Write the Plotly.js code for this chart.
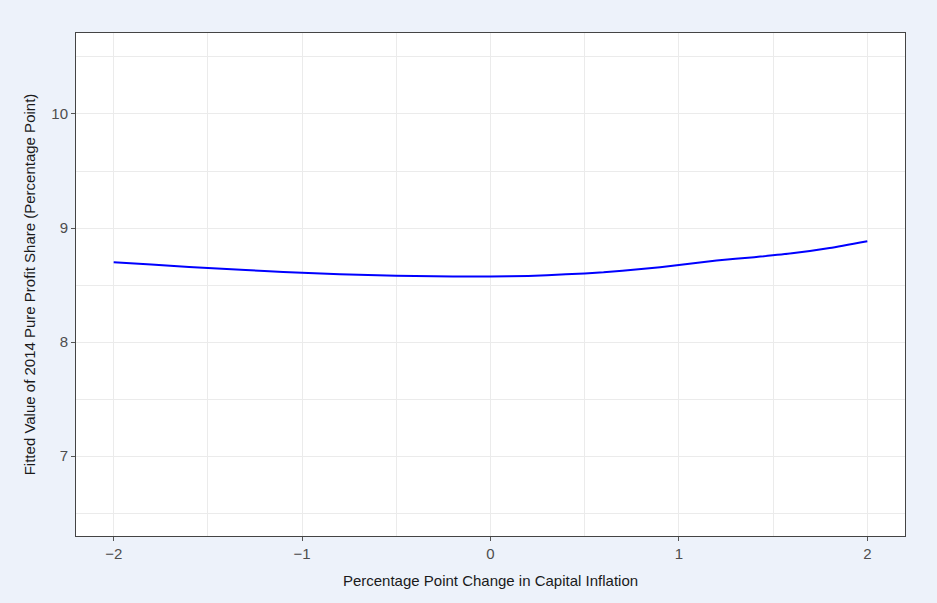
<!DOCTYPE html>
<html>
<head>
<meta charset="utf-8">
<script src="https://cdn.plot.ly/plotly-3.0.1.min.js"></script>
<style>html,body{margin:0;padding:0;background:#EDF2FA;}#chart{width:937px;height:603px;}</style>
</head>
<body>
<div id="chart"></div>
<script>
const inflationChange = [-2.0,-1.8,-1.6,-1.4,-1.2,-1.0,-0.8,-0.6,-0.4,-0.2,0.0,0.2,0.4,0.6,0.8,1.0,1.2,1.4,1.6,1.8,2.0];
const fittedProfitShare = [8.700,8.680,8.659,8.641,8.624,8.607,8.595,8.586,8.580,8.576,8.575,8.580,8.594,8.612,8.640,8.675,8.715,8.745,8.778,8.825,8.885];
const xTicks = [-2,-1,0,1,2];
const yTicks = [7,8,9,10];

const trace = {
  x: inflationChange,
  y: fittedProfitShare,
  type: 'scatter',
  mode: 'lines',
  line: {color: '#0000FF', width: 2, shape: 'spline', smoothing: 0.6},
  hoverinfo: 'x+y'
};

const axisFont = {family: 'Liberation Sans, Arial, sans-serif', size: 15, color: '#4d4d4d'};
const titleFont = {family: 'Liberation Sans, Arial, sans-serif', size: 15, color: '#1a1a1a'};

const layout = {
  width: 937, height: 603,
  paper_bgcolor: '#EDF2FA',
  plot_bgcolor: '#FFFFFF',
  margin: {l: 76, r: 32, t: 33, b: 67},
  showlegend: false,
  xaxis: {
    range: [-2.2, 2.2],
    tickvals: xTicks,
    ticks: 'outside', ticklen: 4, tickcolor: '#555555',
    tickfont: axisFont,
    showgrid: true, gridcolor: '#EBEBEB', gridwidth: 1,
    minor: {dtick: 0.5, tick0: 0, showgrid: true, gridcolor: '#EBEBEB', gridwidth: 1},
    zeroline: false,
    showline: true, mirror: true, linecolor: '#444444', linewidth: 1,
    title: {text: 'Percentage Point Change in Capital Inflation', font: titleFont, standoff: 14}
  },
  yaxis: {
    range: [6.3, 10.71],
    tickvals: yTicks,
    ticks: 'outside', ticklen: 4, tickcolor: '#555555',
    tickfont: axisFont,
    showgrid: true, gridcolor: '#EBEBEB', gridwidth: 1,
    minor: {dtick: 0.5, tick0: 0, showgrid: true, gridcolor: '#EBEBEB', gridwidth: 1},
    zeroline: false,
    showline: true, mirror: true, linecolor: '#444444', linewidth: 1,
    title: {text: 'Fitted Value of 2014 Pure Profit Share (Percentage Point)', font: titleFont, standoff: 12}
  }
};

Plotly.newPlot('chart', [trace], layout, {displayModeBar: false, staticPlot: true});
</script>
</body>
</html>
